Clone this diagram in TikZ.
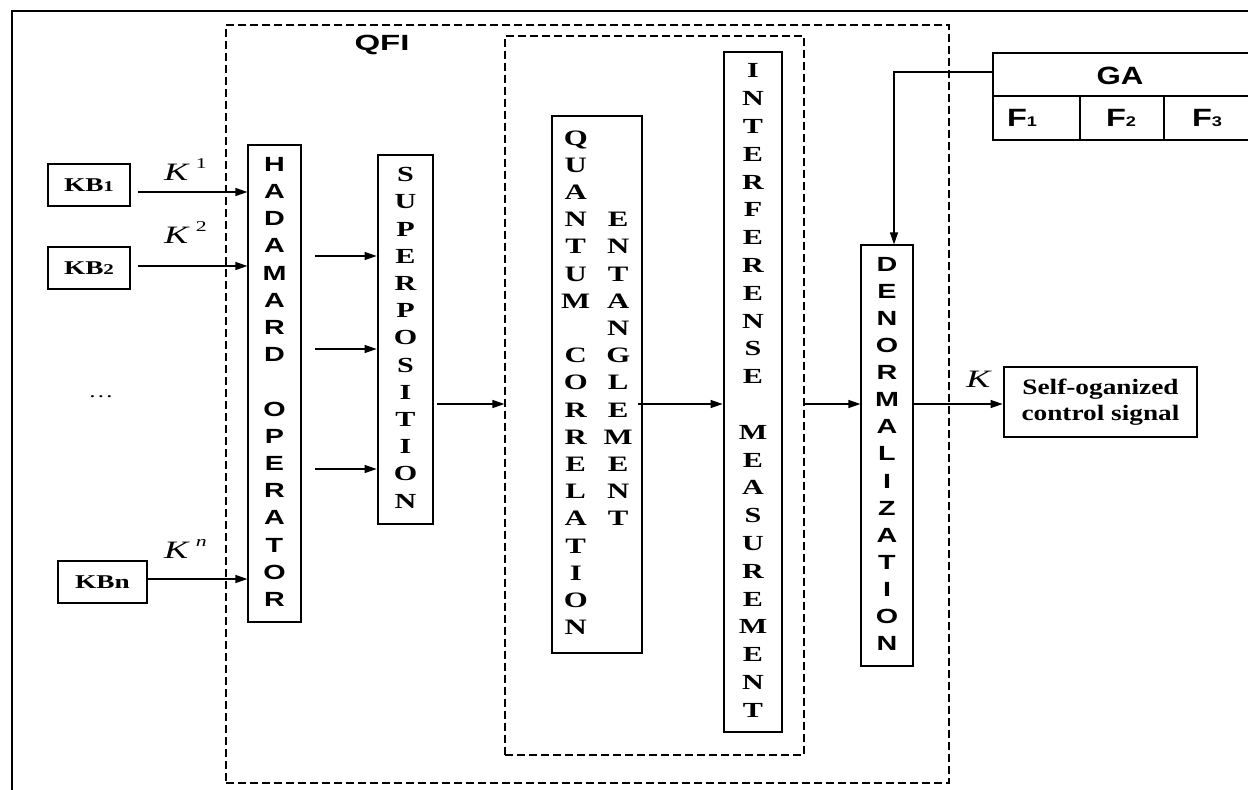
\documentclass[tikz,border=0pt]{standalone}
\usepackage{fontspec}
\setmainfont{Liberation Serif}
\setsansfont{Liberation Sans}
\usepackage{graphicx}
\usetikzlibrary{arrows.meta}
\newcommand{\sx}[2][1.4]{\scalebox{#1}[1]{#2}}
\newcommand{\vcol}[1]{\begin{tabular}{@{}c@{}}#1\end{tabular}}
\tikzset{
  thinbox/.style={draw, line width=1.2pt, inner sep=0pt},
  thickbox/.style={draw, line width=2.8pt, inner sep=0pt},
  dashbox/.style={draw, line width=1.1pt, dash pattern=on 8pt off 4pt, inner sep=0pt},
  arr/.style={-{Triangle[length=12pt,width=8pt]}, line width=1.2pt},
  serifv/.style={font=\bfseries\fontsize{21.5}{27.2}\selectfont},
  sansv/.style={font=\sffamily\bfseries\fontsize{20.5}{27.2}\selectfont},
  klabel/.style={anchor=base west, inner sep=0pt, font=\fontsize{25}{25}\selectfont},
  kbstyle/.style={thickbox, minimum height=42pt, font=\bfseries\fontsize{19.5}{19.5}\selectfont},
  gatext/.style={inner sep=0pt, font=\sffamily\bfseries\fontsize{25}{25}\selectfont}
}
\newcommand{\supk}[1]{\raisebox{12pt}{\fontsize{15}{15}\selectfont #1}}
\begin{document}
\begin{tikzpicture}[x=1pt,y=-1pt]
\useasboundingbox (0,0) rectangle (1248,790);
\fill[white] (0,0) rectangle (1248,790);
% outer frame (only left and top visible)
\draw[line width=2.2pt] (12,790) -- (12,11) -- (1248,11);

% dashed boxes
\node[dashbox, minimum width=723pt, minimum height=758pt] (qfi) at (587.5,404) {};
\node[dashbox, minimum width=299pt, minimum height=719pt] (inner) at (654.5,395.5) {};
\node[inner sep=0pt, font=\sffamily\bfseries\fontsize{22}{22}\selectfont] (qfilabel) at (382,45) {\sx[1.5]{QFI}};

% knowledge bases
\node[kbstyle, minimum width=82pt] (kb1) at (89,185) {\sx{KB{\fontsize{15}{15}\selectfont 1}}};
\node[kbstyle, minimum width=82pt] (kb2) at (89,268) {\sx{KB{\fontsize{15}{15}\selectfont 2}}};
\node[kbstyle, minimum width=89pt] (kbn) at (102.5,582) {\sx{KBn}};
\node[inner sep=0pt, font=\fontsize{18}{18}\selectfont] (dots) at (101,397) {\sx{\ldots}};

% labels
\node[klabel] (k1) at (164,180) {\sx[1.45]{\textit{K}\,\supk{1}}};
\node[klabel] (k2) at (164,243) {\sx[1.45]{\textit{K}\,\supk{2}}};
\node[klabel] (kn) at (164,558) {\sx[1.45]{\textit{K}\,\supk{\textit{n}}}};
\node[klabel] (kout) at (966,387) {\sx[1.45]{\textit{K}}};

% Hadamard
\node[thinbox, sansv, minimum width=53pt, minimum height=477pt] (had) at (274.5,383.5)
  {\sx{\vcol{H\\A\\D\\A\\M\\A\\R\\D\\ \\O\\P\\E\\R\\A\\T\\O\\R}}};
% Superposition
\node[thickbox, serifv, minimum width=55pt, minimum height=369pt] (sup) at (405.5,339.5)
  {\sx{\vcol{S\\U\\P\\E\\R\\P\\O\\S\\I\\T\\I\\O\\N}}};
% Quantum correlation / entanglement
\node[thinbox, font=\bfseries\fontsize{22}{27.2}\selectfont, minimum width=90pt, minimum height=537pt] (qc) at (597,384.5)
  {\sx{\begin{tabular}{@{}c@{\hspace{9.6pt}}c@{}}
  Q & \\ U & \\ A & \\ N & E\\ T & N\\ U & T\\ M & A\\ & N\\ C & G\\ O & L\\
  R & E\\ R & M\\ E & E\\ L & N\\ A & T\\ T & \\ I & \\ O & \\ N &
  \end{tabular}}};
% Interference measurement
\node[thickbox, font=\bfseries\fontsize{21.5}{27.8}\selectfont, minimum width=58pt, minimum height=680pt] (inf) at (753,392)
  {\sx{\vcol{I\\N\\T\\E\\R\\F\\E\\R\\E\\N\\S\\E\\ \\M\\E\\A\\S\\U\\R\\E\\M\\E\\N\\T}}};
% Denormalization
\node[thinbox, font=\sffamily\bfseries\fontsize{20.5}{27.1}\selectfont, minimum width=52pt, minimum height=421pt] (den) at (887,455.5)
  {\sx{\vcol{D\\E\\N\\O\\R\\M\\A\\L\\I\\Z\\A\\T\\I\\O\\N}}};
% Output
\node[thickbox, align=center, font=\bfseries\fontsize{22}{26}\selectfont, minimum width=193pt, minimum height=70pt] (self) at (1100.5,402)
  {\sx[1.24]{Self-oganized}\\\sx[1.24]{control signal}};

% GA table
\draw[line width=2.8pt] (1252,53) -| (993,140) -- (1252,140);
\draw[line width=1.2pt] (993,96) -- (1250,96) (1080,96) -- (1080,140) (1164,96) -- (1164,140);
\node[gatext] (ga) at (1120,76) {\sx[1.25]{GA}};
\node[gatext, anchor=base] (f1) at (1022,126) {\sx[1.3]{F{\fontsize{14}{14}\selectfont 1}}};
\node[gatext, anchor=base] (f2) at (1121,126) {\sx[1.3]{F{\fontsize{14}{14}\selectfont 2}}};
\node[gatext, anchor=base] (f3) at (1207,126) {\sx[1.3]{F{\fontsize{14}{14}\selectfont 3}}};

% connectors
\coordinate (a1) at (138,192);
\coordinate (a2) at (138,266);
\coordinate (an) at (147,579);
\draw[arr] (a1) -- (a1 -| had.west);
\draw[arr] (a2) -- (a2 -| had.west);
\draw[arr] (an) -- (an -| had.west);
\coordinate (h1) at (315,256);
\coordinate (h2) at (315,349);
\coordinate (h3) at (315,469);
\draw[arr] (h1) -- (h1 -| sup.west);
\draw[arr] (h2) -- (h2 -| sup.west);
\draw[arr] (h3) -- (h3 -| sup.west);
\coordinate (s1) at (437,404);
\draw[arr] (s1) -- (s1 -| inner.west);
\coordinate (q1) at (638,404);
\draw[arr] (q1) -- (q1 -| inf.west);
\coordinate (i1) at (805,404);
\draw[arr] (i1) -- (i1 -| den.west);
\coordinate (d1) at (913,404);
\draw[arr] (d1) -- (d1 -| self.west);
\coordinate (gaout) at (993,72);
\draw[arr] (gaout) -| ([xshift=7pt]den.north);
\end{tikzpicture}
\end{document}
